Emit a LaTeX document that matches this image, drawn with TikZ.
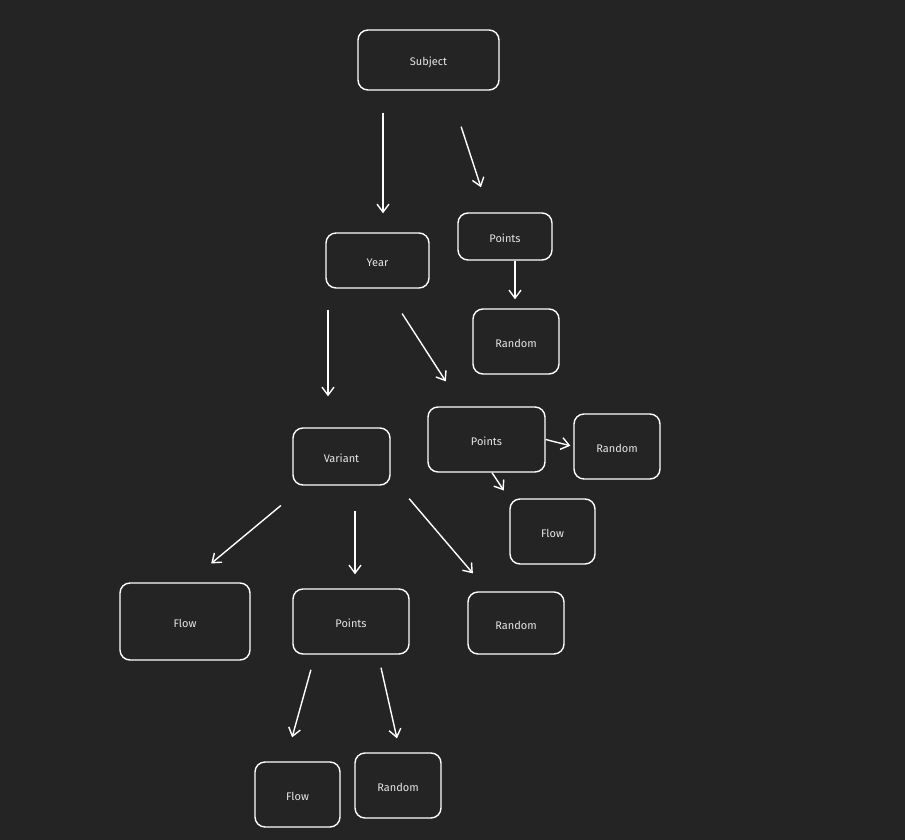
\documentclass[tikz,border=0pt]{standalone}
\usepackage{fontspec}
\setmainfont{Fira Sans}
\usetikzlibrary{arrows.meta}
\definecolor{bgdark}{HTML}{242424}
\definecolor{txtgray}{HTML}{E6E6E6}
\tikzset{
    box/.style={draw=white,fill=bgdark,rounded corners=10pt,line width=1.4pt,text=txtgray,inner sep=0pt,text height=12pt,text depth=0pt,font=\fontsize{11}{13}\selectfont},
    arr/.style={draw=white,line width=1.4pt,-{Straight Barb[length=8pt,width=12pt,line width=1.4pt]}}
}
\begin{document}
\begin{tikzpicture}[x=1pt,y=-1pt]
        \fill[bgdark] (0,0) rectangle (905,840);
        \useasboundingbox (0,0) rectangle (905,840);
        \begin{scope}[every node/.style={box}]
            \node [minimum width=141pt,minimum height=60pt](subj) at (428.5,60) {Subject};
            \node [minimum width=103pt,minimum height=55pt](year) at (377.5,260.5) {Year};
            \node [minimum width=94pt,minimum height=47pt](ptsA) at (505,236.5) {Points};
            \node [minimum width=86pt,minimum height=65pt](rndA) at (516,341.5) {Random};
            \node [minimum width=117pt,minimum height=65pt](ptsB) at (486.5,439.5) {Points};
            \node [minimum width=86pt,minimum height=65pt](rndB) at (617,446.5) {Random};
            \node [minimum width=85pt,minimum height=65pt](flowA) at (552.5,531.5) {Flow};
            \node [minimum width=97pt,minimum height=57pt](var) at (341.5,456.5) {Variant};
            \node [minimum width=130pt,minimum height=77pt](flowB) at (185,621.5) {Flow};
            \node [minimum width=116pt,minimum height=65pt](ptsC) at (351,621.5) {Points};
            \node [minimum width=96pt,minimum height=62pt](rndC) at (516,623) {Random};
            \node [minimum width=85pt,minimum height=65pt](flowC) at (297.5,794.5) {Flow};
            \node [minimum width=86pt,minimum height=65pt](rndD) at (398,785.5) {Random};
        \end{scope}
        %subject level
        \draw [arr,shorten <=22pt,shorten >=19pt]([xshift=-45.5pt]subj.south) -- ([xshift=5.5pt]year.north);
        \draw [arr,shorten <=37.8pt,shorten >=26.3pt]([xshift=20.9pt]subj.south) -- ([xshift=-15.9pt]ptsA.north);
        \draw [arr,shorten >=9pt]([xshift=10pt]ptsA.south) -- ([xshift=-1pt]rndA.north);
        %year level
        \draw [arr,shorten <=21pt,shorten >=31pt]([xshift=-49.5pt]year.south) -- ([xshift=-13.5pt]var.north);
        \draw [arr,shorten <=29.6pt,shorten >=29.6pt]([xshift=8.6pt]year.south) -- ([xshift=-24.6pt]ptsB.north);
        \draw [arr,shorten >=3pt](ptsB.east) -- (rndB.west);
        \draw [arr,shorten >=9.4pt]([xshift=5.5pt]ptsB.south) -- ([xshift=-43.5pt]flowA.north);
        %variant level
        \draw [arr,shorten <=31pt,shorten >=29.5pt]([xshift=-36.8pt]var.south) -- ([xshift=3.5pt]flowB.north);
        \draw [arr,shorten <=25pt,shorten >=14pt]([xshift=13.5pt]var.south) -- ([xshift=4pt]ptsC.north);
        \draw [arr,shorten <=17pt,shorten >=23.6pt]([xshift=56.6pt]var.south) -- ([xshift=-27.8pt]rndC.north);
        \draw [arr,shorten <=15.6pt,shorten >=24.9pt]([xshift=-35.9pt]ptsC.south) -- ([xshift=-12.1pt]flowC.north);
        \draw [arr,shorten <=13.3pt,shorten >=14.3pt]([xshift=27.1pt]ptsC.south) -- ([xshift=2.1pt]rndD.north);
\end{tikzpicture}
\end{document}
